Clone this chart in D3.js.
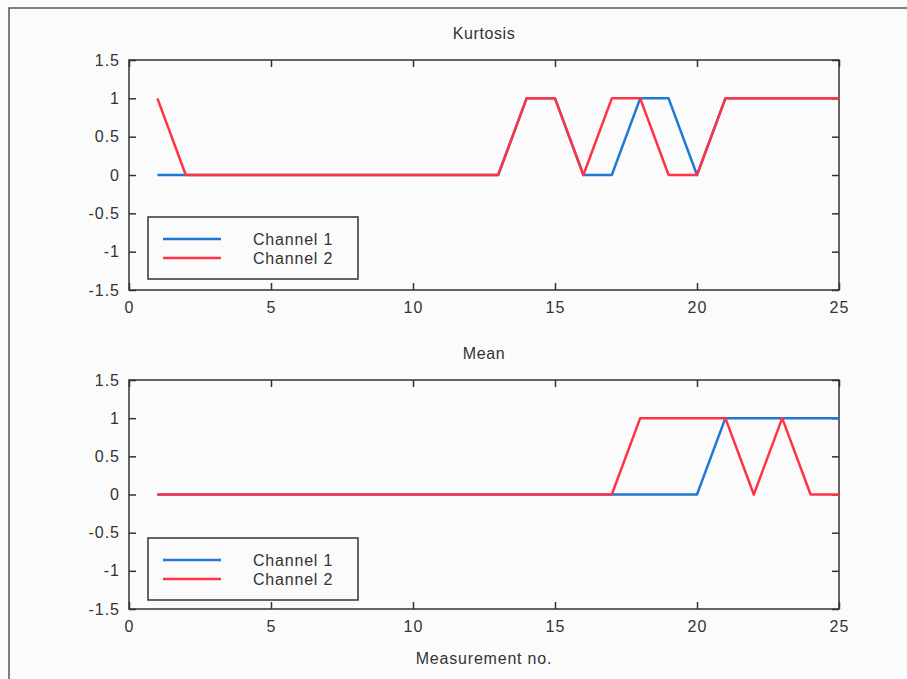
<!DOCTYPE html>
<html>
<head>
<meta charset="utf-8">
<script src="https://cdn.jsdelivr.net/npm/d3@7"></script>
<style>
  body { margin: 0; background: #fcfbfb; }
  svg { display: block; font-family: "Liberation Sans", Arial, sans-serif; }
</style>
</head>
<body>
<div id="chart"></div>
<script>
// Measurement numbers
const measurements = d3.range(1, 26);

// Kurtosis flags
const kurtosisCh1 = [0,0,0,0,0,0,0,0,0,0,0,0,0,1,1,0,0,1,1,0,1,1,1,1,1];
const kurtosisCh2 = [1,0,0,0,0,0,0,0,0,0,0,0,0,1,1,0,1,1,0,0,1,1,1,1,1];

// Mean flags
const meanCh1 = [0,0,0,0,0,0,0,0,0,0,0,0,0,0,0,0,0,0,0,0,1,1,1,1,1];
const meanCh2 = [0,0,0,0,0,0,0,0,0,0,0,0,0,0,0,0,0,1,1,1,1,0,1,0,0];

const xTicks = [0, 5, 10, 15, 20, 25];
const yTicks = [1.5, 1, 0.5, 0, -0.5, -1, -1.5];
const seriesNames = ["Channel 1", "Channel 2"];
const colors = ["#1f78d8", "#ff3344"];

const width = 907, height = 679;

const svg = d3.select("#chart")
  .append("svg")
  .attr("width", width)
  .attr("height", height);

// outer frame (cropped at right/bottom)
svg.append("rect")
  .attr("x", 9).attr("y", 8)
  .attr("width", 920).attr("height", 700)
  .attr("fill", "#fcfbfb")
  .attr("stroke", "#555")
  .attr("stroke-width", 1.5);

const x = d3.scaleLinear().domain([0, 25]).range([129, 839]);

function drawPanel(top, bottom, title, ch1, ch2, legendTop) {
  const y = d3.scaleLinear().domain([-1.5, 1.5]).range([bottom, top]);
  const g = svg.append("g");

  // title
  g.append("text")
    .attr("x", (x(0) + x(25)) / 2)
    .attr("y", top - 21)
    .attr("text-anchor", "middle")
    .attr("fill", "#333")
    .style("font-size", "16px")
    .style("letter-spacing", "0.6px")
    .text(title);

  // box
  g.append("rect")
    .attr("x", x(0)).attr("y", top)
    .attr("width", x(25) - x(0)).attr("height", bottom - top)
    .attr("fill", "none")
    .attr("stroke", "#333")
    .attr("stroke-width", 1.5);

  // ticks on all four sides, pointing inward
  const xb = g.append("g")
    .attr("transform", `translate(0,${bottom})`)
    .call(d3.axisBottom(x).tickValues(xTicks).tickSize(-7).tickPadding(9).tickFormat(d3.format("d")));
  const xt = g.append("g")
    .attr("transform", `translate(0,${top})`)
    .call(d3.axisTop(x).tickValues(xTicks).tickSize(-7).tickFormat(""));
  const yl = g.append("g")
    .attr("transform", `translate(${x(0)},0)`)
    .call(d3.axisLeft(y).tickValues(yTicks).tickSize(-7).tickPadding(9).tickFormat(d => d));
  const yr = g.append("g")
    .attr("transform", `translate(${x(25)},0)`)
    .call(d3.axisRight(y).tickValues(yTicks).tickSize(-7).tickFormat(""));

  [xb, xt, yl, yr].forEach(a => {
    a.select(".domain").remove();
    a.selectAll(".tick line").attr("stroke", "#333").attr("stroke-width", 1.5);
    a.selectAll(".tick text")
      .attr("fill", "#333")
      .style("font-size", "16px")
      .style("letter-spacing", "1px")
      .style("font-family", "'Liberation Sans', Arial, sans-serif");
  });
  xb.selectAll(".tick text").attr("dy", "0.9em");

  const line = d3.line()
    .x((d, i) => x(measurements[i]))
    .y(d => y(d));

  [ch1, ch2].forEach((s, k) => {
    g.append("path")
      .datum(s)
      .attr("d", line)
      .attr("fill", "none")
      .attr("stroke", colors[k])
      .attr("stroke-width", 2.5)
      .attr("stroke-linejoin", "round");
  });

  // legend
  const lg = g.append("g").attr("transform", `translate(148,${legendTop})`);
  lg.append("rect")
    .attr("width", 210).attr("height", 62)
    .attr("fill", "#fcfbfb")
    .attr("stroke", "#333")
    .attr("stroke-width", 1.5);
  seriesNames.forEach((name, k) => {
    const yy = 22 + k * 19;
    lg.append("line")
      .attr("x1", 15).attr("x2", 73)
      .attr("y1", yy).attr("y2", yy)
      .attr("stroke", colors[k])
      .attr("stroke-width", 2.5);
    lg.append("text")
      .attr("x", 105).attr("y", yy + 6)
      .attr("fill", "#333")
      .style("font-size", "16px")
      .style("letter-spacing", "0.8px")
      .text(name);
  });
}

drawPanel(60, 290, "Kurtosis", kurtosisCh1, kurtosisCh2, 217);
drawPanel(380, 609, "Mean", meanCh1, meanCh2, 538);

svg.append("text")
  .attr("x", (x(0) + x(25)) / 2)
  .attr("y", 664)
  .attr("text-anchor", "middle")
  .attr("fill", "#333")
  .style("font-size", "16px")
  .style("letter-spacing", "0.8px")
  .text("Measurement no.");
</script>
</body>
</html>
